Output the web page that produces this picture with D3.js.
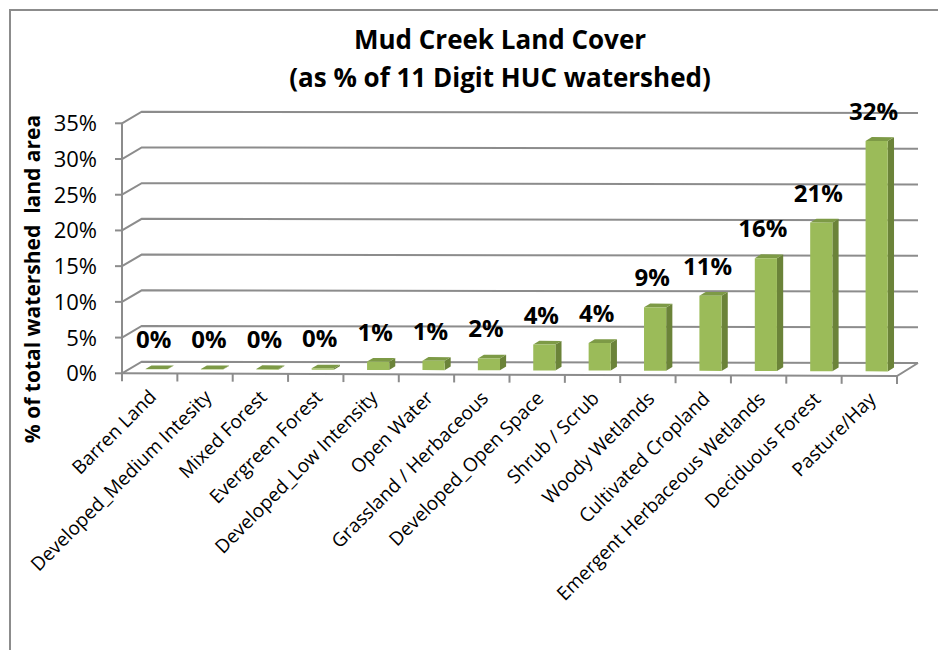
<!DOCTYPE html>
<html><head><meta charset="utf-8">
<script src="https://cdn.jsdelivr.net/npm/d3@7"></script>
<style>body{margin:0;background:#fff} text{font-family:"Open Sans",sans-serif;fill:#000}</style>
</head><body><svg id="c" width="938" height="650"></svg>
<script>
const categories = ["Barren Land","Developed_Medium Intesity","Mixed Forest","Evergreen Forest","Developed_Low Intensity","Open Water","Grassland / Herbaceous","Developed_Open Space","Shrub / Scrub","Woody Wetlands","Cultivated Cropland","Emergent Herbaceous Wetlands","Deciduous Forest","Pasture/Hay"];
const values = [0.05,0.05,0.1,0.2,1.17,1.31,1.65,3.62,3.86,8.87,10.52,15.8,20.8,32.25];
const yTicks = [0,5,10,15,20,25,30,35];
const titleLines = ["Mud Creek Land Cover","(as % of 11 Digit HUC watershed)"];
const yTitle = "% of total watershed  land area";

const svg = d3.select("#c");
// frame
svg.append("rect").attr("x",10).attr("y",10).attr("width",960).attr("height",700)
  .attr("fill","#fff").attr("stroke","#8c8c8c").attr("stroke-width",2);

// 3D floor corners (front-left, front-right, back-left, back-right)
const FL=[122,373.3], FR=[897,376], BL=[141.7,361.7], BR=[918,363];
const x = d3.scaleBand().domain(categories).range([0,1]).paddingInner(0.6).paddingOuter(0.3);
const slot = d3.scaleBand().domain(categories).range([0,1]);
const z = d3.scaleLinear().domain([0,1]).range([0,1]);
const h = d3.scaleLinear().domain([0,35]).range([0,250]);
function P(t,zz,v){
  const fx=FL[0]+(FR[0]-FL[0])*t, fy=FL[1]+(FR[1]-FL[1])*t;
  const bx=BL[0]+(BR[0]-BL[0])*t, by=BL[1]+(BR[1]-BL[1])*t;
  return [fx+(bx-fx)*zz, fy+(by-fy)*zz - h(v)];
}
const line = d3.line();
const gridC="#8c8c8c";
yTicks.forEach(v=>{
  svg.append("path").attr("d",line([P(0,0,v),P(0,1,v),P(1,1,v)]))
    .attr("fill","none").attr("stroke",gridC).attr("stroke-width",2);
});
svg.append("path").attr("d",line([P(0,0,0),P(1,0,0),P(1,1,0)]))
  .attr("fill","none").attr("stroke",gridC).attr("stroke-width",2);
svg.append("path").attr("d",line([P(0,0,0),P(0,0,35)]))
  .attr("fill","none").attr("stroke",gridC).attr("stroke-width",2);
yTicks.forEach(v=>{
  const p=P(0,0,v);
  svg.append("line").attr("x1",p[0]-7).attr("x2",p[0]).attr("y1",p[1]).attr("y2",p[1])
    .attr("stroke",gridC).attr("stroke-width",2);
  svg.append("text").attr("x",p[0]-25).attr("y",p[1]).attr("dy","0.36em")
    .attr("text-anchor","end").attr("font-size",22).attr("fill","#222").text(v+"%");
});
const bounds = categories.map(c=>slot(c)).concat([1]);
bounds.forEach(t=>{
  const p=P(t,0,0);
  svg.append("line").attr("x1",p[0]).attr("x2",p[0]).attr("y1",p[1]).attr("y2",p[1]+8)
    .attr("stroke",gridC).attr("stroke-width",2);
});
const z0=z(0.35), z1=z(0.65);
const fmt = d3.format(".0f");
categories.forEach((c,i)=>{
  const v=values[i], t0=x(c), t1=x(c)+x.bandwidth();
  const g=svg.append("g");
  g.append("path").attr("d",line([P(t1,z0,0),P(t1,z1,0),P(t1,z1,v),P(t1,z0,v)])+"Z").attr("fill","#6b8339");
  g.append("path").attr("d",line([P(t0,z0,v),P(t1,z0,v),P(t1,z1,v),P(t0,z1,v)])+"Z").attr("fill","#7d9a46");
  g.append("path").attr("d",line([P(t0,z0,0),P(t1,z0,0),P(t1,z0,v),P(t0,z0,v)])+"Z").attr("fill","#9bbb59");
  const a=P(t0,z0,v), b=P(t1,z0,v);
  svg.append("text").attr("x",(a[0]+b[0])/2-3).attr("y",(a[1]+b[1])/2-21)
    .attr("text-anchor","middle").attr("font-size",24).attr("font-weight","bold")
    .text(fmt(v)+"%");
});
categories.forEach(c=>{
  const p=P(slot(c)+slot.bandwidth()/2,0,0);
  svg.append("text").attr("transform",`translate(${p[0]+3},${p[1]+20}) rotate(-45)`)
    .attr("text-anchor","end").attr("dy","0.35em").attr("font-size",19).attr("fill","#111").text(c);
});
titleLines.forEach((s,i)=>{
  svg.append("text").attr("x",500).attr("y",49+i*38).attr("text-anchor","middle")
    .attr("font-size",26).attr("font-weight","bold").text(s);
});
svg.append("text").attr("transform","translate(33,279) rotate(-90)").attr("dy","0.35em")
  .attr("text-anchor","middle").attr("font-size",21).attr("font-weight","bold")
  .style("white-space","pre").text(yTitle);
</script></body></html>
